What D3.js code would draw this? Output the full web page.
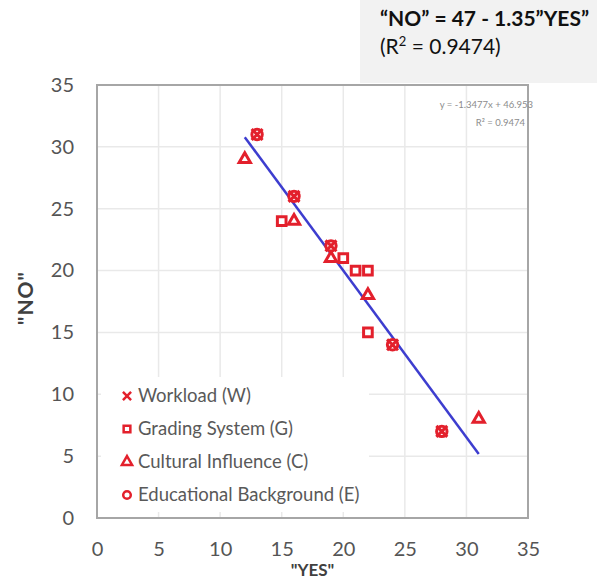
<!DOCTYPE html>
<html>
<head>
<meta charset="utf-8">
<script src="https://cdn.jsdelivr.net/npm/d3@7"></script>
<style>
  body { margin: 0; background: #fff; }
  text { font-family: Lato, 'Open Sans', sans-serif; }
</style>
</head>
<body>
<div id="chart"></div>
<script>
// Data
const yesTicks = [0, 5, 10, 15, 20, 25, 30, 35];
const noTicks = [0, 5, 10, 15, 20, 25, 30, 35];

const workloadYes = [13, 16, 19, 24, 28];
const workloadNo = [31, 26, 22, 14, 7];
const gradingYes = [15, 20, 21, 22, 22];
const gradingNo = [24, 21, 20, 20, 15];
const culturalYes = [12, 16, 19, 22, 31];
const culturalNo = [29, 24, 21, 18, 8];
const educationYes = [13, 16, 19, 24, 28];
const educationNo = [31, 26, 22, 14, 7];

const seriesNames = ['Workload (W)', 'Grading System (G)', 'Cultural Influence (C)', 'Educational Background (E)'];

const trendSlope = -1.3477;
const trendIntercept = 46.953;
const trendYes = [12, 31];

function draw() {
  // Dimensions
  let dimensions = {
    width: 597,
    height: 582,
    left: 97,
    right: 528,
    top: 85,
    bottom: 518,
  };

  const red = '#e3202c';

  const svg = d3
    .select('#chart')
    .append('svg')
    .attr('width', dimensions.width)
    .attr('height', dimensions.height);

  // Scales
  const xScale = d3.scaleLinear().domain([0, 35]).range([dimensions.left, dimensions.right]);
  const yScale = d3.scaleLinear().domain([0, 35]).range([dimensions.bottom, dimensions.top]);

  // Gridlines
  svg
    .append('g')
    .selectAll('line')
    .data(yesTicks.slice(1, -1))
    .join('line')
    .attr('x1', (d) => xScale(d))
    .attr('x2', (d) => xScale(d))
    .attr('y1', dimensions.top)
    .attr('y2', dimensions.bottom)
    .attr('stroke', '#e9e9e9')
    .attr('stroke-width', 1.5);

  svg
    .append('g')
    .selectAll('line')
    .data(noTicks.slice(1, -1))
    .join('line')
    .attr('y1', (d) => yScale(d))
    .attr('y2', (d) => yScale(d))
    .attr('x1', dimensions.left)
    .attr('x2', dimensions.right)
    .attr('stroke', '#e9e9e9')
    .attr('stroke-width', 1.5);

  // Axes (labels only)
  const xAxis = d3.axisBottom(xScale).tickValues(yesTicks).tickSize(0).tickPadding(24);
  svg
    .append('g')
    .attr('transform', `translate(0, ${dimensions.bottom})`)
    .call(xAxis)
    .call((g) => g.select('.domain').remove())
    .selectAll('text')
    .attr('font-family', 'Lato')
    .attr('font-size', 20)
    .attr('fill', '#555');

  const yAxis = d3.axisLeft(yScale).tickValues(noTicks).tickSize(0).tickPadding(23);
  svg
    .append('g')
    .attr('transform', `translate(${dimensions.left}, 0)`)
    .call(yAxis)
    .call((g) => g.select('.domain').remove())
    .selectAll('text')
    .attr('font-family', 'Lato')
    .attr('font-size', 20)
    .attr('fill', '#555');

  // Axis titles
  svg
    .append('text')
    .attr('x', (dimensions.left + dimensions.right) / 2)
    .attr('y', 576)
    .attr('text-anchor', 'middle')
    .attr('font-weight', 'bold')
    .attr('font-size', 17)
    .attr('fill', '#404040')
    .text('"YES"');

  svg
    .append('text')
    .attr('transform', `translate(33, 298) rotate(-90)`)
    .attr('text-anchor', 'middle')
    .attr('font-weight', 'bold')
    .attr('font-size', 21)
    .attr('letter-spacing', 1)
    .attr('fill', '#404040')
    .text('"NO"');

  // Legend background
  const legend = svg.append('g').attr('transform', 'translate(101, 377)');
  legend.append('rect').attr('width', 268).attr('height', 135).attr('fill', '#fff');

  // Trendline
  svg
    .append('line')
    .attr('x1', xScale(trendYes[0]))
    .attr('y1', yScale(trendIntercept + trendSlope * trendYes[0]))
    .attr('x2', xScale(trendYes[1]))
    .attr('y2', yScale(trendIntercept + trendSlope * trendYes[1]))
    .attr('stroke', '#3d3dcf')
    .attr('stroke-width', 2.5);

  // Points
  const series = [
    { yes: gradingYes, no: gradingNo, type: d3.symbolSquare, size: 75 },
    { yes: culturalYes, no: culturalNo, type: d3.symbolTriangle, size: 55 },
    { yes: educationYes, no: educationNo, type: d3.symbolCircle, size: 85 },
    { yes: workloadYes, no: workloadNo, type: d3.symbolTimes, size: 80 },
  ];

  series.forEach((s) => {
    const pts = s.yes.map((v, i) => [v, s.no[i]]);
    svg
      .append('g')
      .selectAll('path')
      .data(pts)
      .join('path')
      .attr('transform', (d) => `translate(${xScale(d[0])}, ${yScale(d[1])})`)
      .attr('d', d3.symbol().type(s.type).size(s.size))
      .attr('fill', s.type === d3.symbolTimes ? 'none' : '#fff')
      .attr('stroke', red)
      .attr('stroke-width', 3);
  });

  // Plot border
  svg
    .append('rect')
    .attr('x', dimensions.left)
    .attr('y', dimensions.top)
    .attr('width', dimensions.right - dimensions.left)
    .attr('height', dimensions.bottom - dimensions.top)
    .attr('fill', 'none')
    .attr('stroke', '#a6a6a6')
    .attr('stroke-width', 2);

  // Trendline label
  const eq = svg.append('g').attr('font-size', 9.5).attr('fill', '#8c8c8c').attr('text-anchor', 'end');
  eq.append('text').attr('x', 533).attr('y', 108).text(`y = ${trendSlope}x + ${trendIntercept}`);
  eq.append('text').attr('x', 525).attr('y', 126).text('R² = 0.9474');

  // Legend entries
  const legendTypes = [d3.symbolTimes, d3.symbolSquare, d3.symbolTriangle, d3.symbolCircle];
  const rows = legend
    .selectAll('g')
    .data(seriesNames)
    .join('g')
    .attr('transform', (d, i) => `translate(0, ${19 + i * 33})`);

  rows
    .append('path')
    .attr('transform', 'translate(26, 0)')
    .attr('d', (d, i) => d3.symbol().type(legendTypes[i]).size(45)())
    .attr('fill', (d, i) => (i === 0 ? 'none' : '#fff'))
    .attr('stroke', red)
    .attr('stroke-width', 2.5);

  rows
    .append('text')
    .attr('x', 37)
    .attr('dy', '0.35em')
    .attr('font-size', 18.5)
    .attr('fill', '#595959')
    .text((d) => d);

  // Regression note box
  svg.append('rect').attr('x', 360).attr('y', 0).attr('width', 237).attr('height', 83).attr('fill', '#f2f2f2');
  svg
    .append('text')
    .attr('x', 380)
    .attr('y', 26)
    .attr('font-size', 21)
    .attr('font-weight', 'bold')
    .attr('fill', '#111')
    .text('“NO” = 47 - 1.35”YES”');
  const r2 = svg.append('text').attr('x', 380).attr('y', 54).attr('font-size', 21).attr('fill', '#111');
  r2.append('tspan').text('(R');
  r2.append('tspan').attr('dy', -8).attr('font-size', 13).text('2');
  r2.append('tspan').attr('dy', 8).text(' = 0.9474)');
}

draw();
</script>
</body>
</html>
